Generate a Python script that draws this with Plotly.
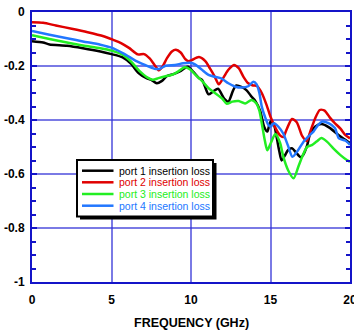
import plotly.graph_objects as go

# ---------------- data ----------------
freq_p1 = [0.0, 0.7, 1.1, 2.2, 3.2, 4.3, 5.0, 5.7, 6.2, 6.7, 7.2, 7.5, 7.85, 8.15, 8.5, 8.9, 9.3, 9.6, 9.8,
           10.15, 10.5, 10.7, 10.9, 11.1, 11.4, 11.7, 12.1, 12.35, 12.65, 12.85, 13.2, 13.5, 13.8, 14.05,
           14.35, 14.6, 14.8, 15.0, 15.2, 15.4, 15.55, 15.7, 15.9, 16.1, 16.35, 16.6, 16.9, 17.05, 17.3,
           17.5, 17.8, 18.2, 18.7, 19.2, 19.6, 20.0]
loss_p1 = [-0.108, -0.113, -0.120, -0.125, -0.134, -0.146, -0.156, -0.168, -0.190, -0.226, -0.245, -0.251,
           -0.264, -0.256, -0.237, -0.230, -0.220, -0.208, -0.203, -0.222, -0.245, -0.252, -0.280, -0.305,
           -0.294, -0.284, -0.322, -0.332, -0.290, -0.272, -0.278, -0.290, -0.313, -0.330, -0.366, -0.425,
           -0.443, -0.406, -0.414, -0.468, -0.515, -0.550, -0.532, -0.512, -0.505, -0.520, -0.538, -0.530,
           -0.495, -0.450, -0.425, -0.415, -0.428, -0.452, -0.470, -0.485]

freq_p2 = [0.0, 0.7, 1.5, 2.5, 3.5, 4.5, 5.1, 5.6, 6.1, 6.65, 7.05, 7.4, 7.75, 7.98, 8.2, 8.5, 8.8, 9.05,
           9.35, 9.65, 9.85, 10.05, 10.5, 10.9, 11.2, 11.5, 11.75, 12.05, 12.35, 12.7, 13.0, 13.3, 13.6,
           13.9, 14.15, 14.45, 14.75, 15.0, 15.3, 15.6, 15.8, 16.0, 16.35, 16.65, 17.0, 17.28, 17.5, 17.8,
           18.1, 18.4, 18.75, 19.05, 19.4, 19.7, 20.0]
loss_p2 = [-0.038, -0.040, -0.050, -0.062, -0.075, -0.090, -0.103, -0.115, -0.133, -0.157, -0.156, -0.172,
           -0.200, -0.216, -0.203, -0.170, -0.146, -0.140, -0.150, -0.175, -0.182, -0.178, -0.167, -0.182,
           -0.210, -0.240, -0.268, -0.242, -0.214, -0.196, -0.208, -0.240, -0.264, -0.272, -0.274, -0.300,
           -0.344, -0.388, -0.428, -0.457, -0.463, -0.437, -0.396, -0.408, -0.460, -0.478, -0.443, -0.395,
           -0.363, -0.365, -0.392, -0.412, -0.432, -0.455, -0.468]

freq_p3 = [0.0, 1.1, 2.2, 3.2, 4.3, 5.0, 5.75, 6.25, 6.75, 7.3, 7.6, 7.95, 8.4, 8.8, 9.2, 9.6, 9.95, 10.3,
           10.7, 11.1, 11.5, 11.95, 12.25, 12.6, 13.0, 13.4, 13.8, 14.1, 14.3, 14.45, 14.65, 14.8, 15.0,
           15.3, 15.6, 15.8, 16.1, 16.45, 16.75, 17.0, 17.3, 17.6, 17.9, 18.2, 18.55, 18.95, 19.4, 19.8, 20.0]
loss_p3 = [-0.086, -0.100, -0.113, -0.124, -0.134, -0.143, -0.160, -0.185, -0.218, -0.244, -0.251, -0.245,
           -0.238, -0.233, -0.220, -0.205, -0.213, -0.234, -0.256, -0.282, -0.300, -0.320, -0.340, -0.332,
           -0.330, -0.339, -0.326, -0.338, -0.365, -0.412, -0.478, -0.512, -0.488, -0.452, -0.484, -0.535,
           -0.585, -0.616, -0.573, -0.535, -0.500, -0.493, -0.480, -0.467, -0.480, -0.505, -0.530, -0.548,
           -0.555]

freq_p4 = [0.0, 1.1, 2.2, 3.2, 4.3, 5.0, 5.8, 6.5, 7.1, 7.7, 8.05, 8.4, 9.0, 9.5, 9.95, 10.25, 10.65, 11.1,
           11.5, 11.9, 12.35, 12.8, 13.2, 13.6, 13.92, 14.13, 14.3, 14.45, 14.65, 14.86, 15.0, 15.22, 15.5,
           15.8, 16.1, 16.38, 16.7, 17.06, 17.4, 17.7, 18.0, 18.25, 18.65, 19.05, 19.3, 19.7, 20.0]
loss_p4 = [-0.070, -0.084, -0.097, -0.109, -0.121, -0.132, -0.155, -0.180, -0.196, -0.210, -0.210, -0.199,
           -0.196, -0.190, -0.188, -0.194, -0.212, -0.233, -0.240, -0.246, -0.264, -0.277, -0.280, -0.275,
           -0.258, -0.268, -0.300, -0.350, -0.388, -0.418, -0.425, -0.412, -0.425, -0.450, -0.495, -0.536,
           -0.515, -0.482, -0.460, -0.443, -0.418, -0.406, -0.412, -0.430, -0.468, -0.476, -0.492]

series_names = ["port 1 insertion loss", "port 2 insertion loss",
                "port 3 insertion loss", "port 4 insertion loss"]
series_colors = ["#000000", "#e00000", "#22ee22", "#2277ff"]

x_tick_vals = [0, 5, 10, 15, 20]
x_tick_text = ["0", "5", "10", "15", "20"]
y_tick_vals = [0, -0.2, -0.4, -0.6, -0.8, -1]
y_tick_text = ["0", "-0.2", "-0.4", "-0.6", "-0.8", "-1"]
x_title = "FREQUENCY (GHz)"

# ---------------- figure ----------------
W, H = 354, 332
ML, MR, MT, MB = 32, 4, 12, 50
X0, X1 = 0, 20
Y0, Y1 = -1, 0
PW, PH = W - ML - MR, H - MT - MB


def px2x(px):  # figure pixel -> data x
    return X0 + (px - ML) / PW * (X1 - X0)


def py2y(py):  # figure pixel -> data y
    return Y1 - (py - MT) / PH * (Y1 - Y0)


fig = go.Figure()
all_x = [freq_p1, freq_p2, freq_p3, freq_p4]
all_y = [loss_p1, loss_p2, loss_p3, loss_p4]
for xs, ys, name, col in zip(all_x, all_y, series_names, series_colors):
    fig.add_trace(go.Scatter(x=xs, y=ys, mode="lines", name=name,
                             line=dict(color=col, width=2.5, shape="spline", smoothing=0.7),
                             showlegend=False, cliponaxis=True))

axis_col = "#1414c8"
grid_col = "rgba(50,50,215,0.65)"
FONT = "Liberation Sans, Arial, sans-serif"
tick_font = dict(family=FONT, size=12, color="#000000", weight="bold")

fig.update_xaxes(range=[X0, X1], tickvals=x_tick_vals, ticktext=x_tick_text,
                 showline=True, linecolor=axis_col, linewidth=2, mirror=True,
                 showgrid=True, gridcolor=grid_col, gridwidth=1.5,
                 ticks="", zeroline=False, tickfont=tick_font,
                 automargin=False, ticklabeloverflow="allow", ticklabelstandoff=6)
fig.update_yaxes(range=[Y0, Y1], tickvals=y_tick_vals, ticktext=y_tick_text,
                 showline=True, linecolor=axis_col, linewidth=2, mirror="allticks",
                 showgrid=True, gridcolor=grid_col, gridwidth=1.5,
                 ticks="inside", ticklen=5, tickcolor=axis_col, tickwidth=1.5,
                 minor=dict(dtick=0.05, tick0=0, ticks="inside", ticklen=4, tickcolor=axis_col,
                            tickwidth=1.5, showgrid=False),
                 zeroline=False, tickfont=tick_font,
                 automargin=False, ticklabeloverflow="allow", ticklabelstandoff=3)

# ---------------- custom legend box ----------------
shapes = []
shapes.append(dict(type="rect", xref="x", yref="y", layer="above",
                   x0=px2x(80), x1=px2x(216.5), y0=py2y(163), y1=py2y(219.5),
                   fillcolor="#000000", line=dict(width=0)))
shapes.append(dict(type="rect", xref="x", yref="y", layer="above",
                   x0=px2x(77), x1=px2x(213), y0=py2y(160), y1=py2y(216.5),
                   fillcolor="#ffffff", line=dict(color="#000000", width=2)))
row_py = [170.7, 182.3, 194.0, 205.7]
annotations = []
for name, col, rp in zip(series_names, series_colors, row_py):
    shapes.append(dict(type="line", xref="x", yref="y", layer="above",
                       x0=px2x(82), x1=px2x(113.5), y0=py2y(rp), y1=py2y(rp),
                       line=dict(color=col, width=2.5)))
    annotations.append(dict(x=px2x(116.5), y=py2y(rp), xref="x", yref="y", text=name,
                            showarrow=False, xanchor="left", yanchor="middle",
                            font=dict(family=FONT, size=10.5, color=col)))

# x axis title
annotations.append(dict(x=0.5, y=0, xref="paper", yref="paper", text=x_title, showarrow=False,
                        xanchor="center", yanchor="middle", yshift=-41,
                        font=dict(family=FONT, size=12.5, color="#000000", weight="bold")))

fig.update_layout(width=W, height=H, margin=dict(l=ML, r=MR, t=MT, b=MB, pad=0, autoexpand=False),
                  paper_bgcolor="#ffffff", plot_bgcolor="#ffffff",
                  shapes=shapes, annotations=annotations, showlegend=False)

# remove the default page margin so the figure sits at the window's top-left corner
fig.write_html("out.html", config={"displayModeBar": False},
               post_script="document.body.style.margin='0';document.body.style.overflow='hidden';")
